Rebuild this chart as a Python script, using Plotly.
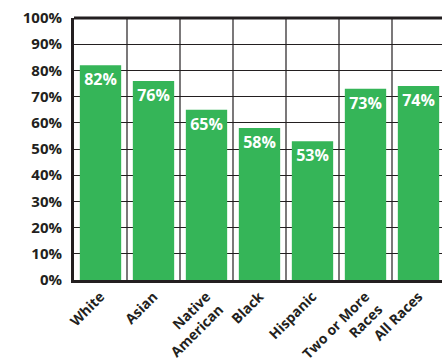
import plotly.graph_objects as go

categories = ["White", "Asian", "Native<br>American", "Black", "Hispanic", "Two or More<br>Races", "All Races"]
values = [82, 76, 65, 58, 53, 73, 74]
labels = [f"{v}%" for v in values]
ytick_vals = list(range(0, 101, 10))
ytick_text = [f"{v}%" for v in ytick_vals]

FONT = "Open Sans"
DARK = "#231f20"
GREEN = "#35b558"

xs = list(range(len(categories)))

fig = go.Figure(go.Bar(
    x=xs, y=values, width=0.78,
    marker=dict(color=GREEN, line=dict(width=0)),
    text=labels, textposition="inside", insidetextanchor="end",
    textfont=dict(family=FONT, size=16, color="white", weight="bold"),
    cliponaxis=False,
))

shapes = [dict(type="line", xref="x", yref="paper", x0=i + 0.5, x1=i + 0.5, y0=0, y1=1,
               line=dict(color=DARK, width=1.2), layer="above") for i in range(len(categories) - 1)]
shapes.append(dict(type="line", xref="paper", yref="paper", x0=0, x1=1, y0=1, y1=1,
                   line=dict(color=DARK, width=3), layer="above"))

fig.update_layout(
    width=442, height=364,
    margin=dict(l=74, r=0, t=18, b=84, autoexpand=False),
    paper_bgcolor="white", plot_bgcolor="white",
    showlegend=False,
    uniformtext=dict(minsize=16, mode="show"),
    xaxis=dict(
        range=[-0.5, -0.5 + 368 / 53], automargin=False,
        tickvals=xs, ticktext=categories, tickangle=-45,
        tickfont=dict(family=FONT, size=14, color=DARK, weight="bold"),
        showgrid=False, zeroline=False,
        showline=True, linecolor=DARK, linewidth=3,
        ticks="",
    ),
    yaxis=dict(
        range=[0, 100], tickvals=ytick_vals, ticktext=ytick_text, automargin=False,
        tickfont=dict(family=FONT, size=15, color=DARK, weight="bold"),
        showgrid=True, gridcolor=DARK, gridwidth=1.2,
        zeroline=False,
        showline=True, linecolor=DARK, linewidth=3,
        ticks="", ticklabelstandoff=6,
    ),
    shapes=shapes,
)

fig.write_html("out.html")
